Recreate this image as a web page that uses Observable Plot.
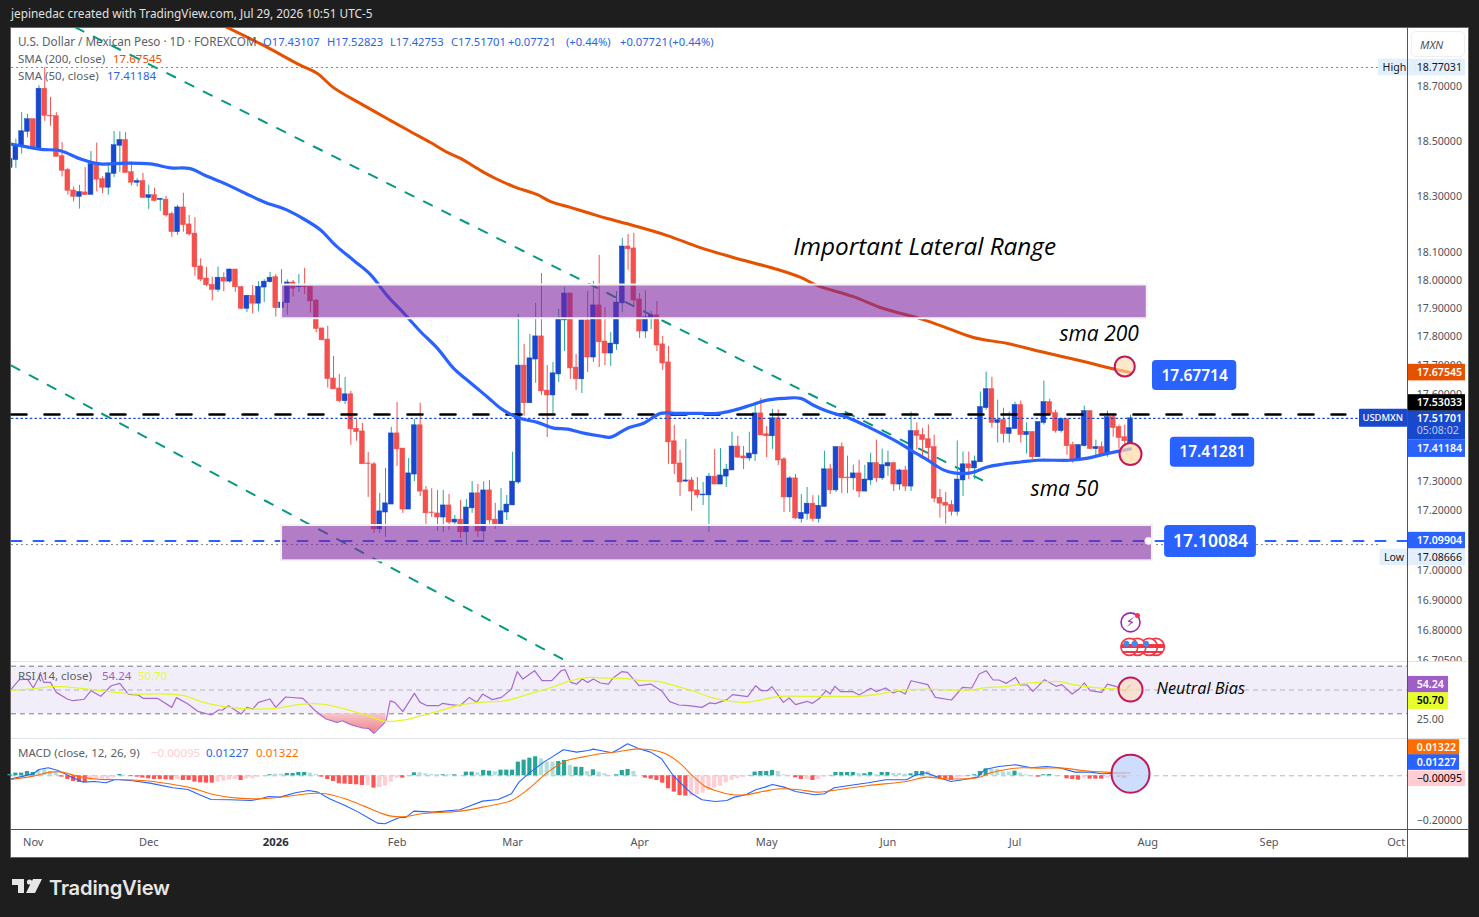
<!DOCTYPE html>
<html><head><meta charset="utf-8">
<script src="https://cdn.jsdelivr.net/npm/d3@7"></script>
<script src="https://cdn.jsdelivr.net/npm/@observablehq/plot@0.6"></script>
<style>
html,body{margin:0;padding:0;background:#1e1e1e;width:1479px;height:917px;overflow:hidden}
#stage{position:relative;width:1479px;height:917px;font-family:"Noto Sans",sans-serif}
#stage svg.plot,#stage>svg{position:absolute;left:0;max-width:none}
.t{position:absolute;white-space:pre;transform:translateY(-50%);line-height:1}
.b{position:absolute}
</style></head><body><div id="stage"></div>
<script>
// ---------- bars (first entry is bar -1) ----------
const firstBar=-1;
const opens=[18.403,18.431,18.483,18.534,18.580,18.471,18.692,18.593,18.591,18.445,18.395,18.321,18.298,18.314,18.305,18.416,18.362,18.331,18.381,18.483,18.504,18.387,18.349,18.355,18.294,18.304,18.287,18.288,18.236,18.171,18.260,18.199,18.166,18.049,18.006,17.984,17.966,18.009,17.995,18.038,17.976,17.899,17.945,17.917,17.974,17.993,
18.011,17.901,17.919,17.992,17.975,17.977,17.977,17.928,17.830,17.791,17.655,17.620,17.576,17.600,17.481,17.472,17.362,17.359,17.138,17.195,17.222,17.465,17.413,17.205,17.324,17.493,17.270,17.195,17.192,17.178,17.219,17.161,17.171,17.128,17.209,17.260,17.131,17.270,17.171,17.155,17.195,17.219,17.297,17.700,17.569,17.721,17.802,17.613,17.596,17.669,17.858,17.953,17.693,17.652,17.858,17.728,17.911,17.784,17.742,17.774,17.918,18.120,18.113,17.932,17.819,17.865,17.876,17.774,17.711,17.438,17.362,17.300,17.304,17.270,17.253,17.253,17.317,17.290,17.317,17.338,17.420,17.386,17.379,17.393,17.534,17.462,17.455,17.517,17.376,17.246,17.311,17.173,17.190,17.225,17.173,17.214,17.342,17.270,17.418,17.314,17.311,17.328,17.266,17.304,17.363,17.311,17.352,17.363,17.290,17.338,17.283,17.473,17.459,17.445,17.418,17.245,17.228,17.221,17.197,17.304,17.359,17.345,17.366,17.552,17.618,17.501,17.511,17.463,17.480,17.563,17.459,17.470,17.383,17.501,17.573,17.535,17.473,17.514,17.425,17.373,17.421,17.542,17.411,17.418,17.394,17.521,17.487,17.452,17.43107];
const highs=[18.44,18.507,18.604,18.598,18.580,18.703,18.77031,18.660,18.604,18.495,18.401,18.334,18.340,18.404,18.462,18.493,18.370,18.415,18.535,18.534,18.531,18.425,18.364,18.383,18.340,18.329,18.291,18.300,18.243,18.268,18.311,18.231,18.223,18.076,18.046,18.011,18.047,18.026,18.040,18.038,17.976,17.947,17.981,17.995,18.002,18.028,
18.020,18.038,18.001,17.999,18.020,18.042,17.985,17.932,17.830,17.837,17.732,17.669,17.659,17.610,17.513,17.500,17.400,17.365,17.260,17.345,17.486,17.572,17.413,17.379,17.513,17.569,17.283,17.276,17.270,17.270,17.256,17.185,17.236,17.239,17.300,17.290,17.300,17.304,17.226,17.277,17.253,17.400,17.879,17.774,17.809,17.918,18.024,17.700,17.711,17.897,17.974,17.953,17.739,17.858,17.960,17.996,18.088,17.904,17.816,17.960,18.149,18.163,18.167,17.953,17.963,17.890,17.925,17.802,17.767,17.493,17.407,17.444,17.314,17.314,17.297,17.328,17.410,17.413,17.359,17.469,17.455,17.420,17.469,17.572,17.586,17.489,17.548,17.546,17.382,17.317,17.324,17.256,17.280,17.252,17.252,17.404,17.359,17.418,17.432,17.387,17.356,17.373,17.356,17.397,17.442,17.411,17.404,17.366,17.342,17.352,17.539,17.501,17.483,17.494,17.459,17.273,17.263,17.235,17.439,17.401,17.401,17.387,17.608,17.677,17.659,17.580,17.552,17.539,17.573,17.577,17.501,17.470,17.504,17.646,17.583,17.545,17.518,17.514,17.435,17.425,17.559,17.542,17.442,17.435,17.542,17.528,17.494,17.494,17.52823];
const lows=[18.38,18.401,18.453,18.512,18.467,18.471,18.572,18.554,18.443,18.370,18.304,18.280,18.254,18.304,18.305,18.316,18.310,18.304,18.367,18.386,18.384,18.337,18.334,18.294,18.253,18.280,18.246,18.225,18.153,18.159,18.171,18.157,18.014,17.995,17.977,17.927,17.957,17.959,17.990,17.957,17.896,17.886,17.881,17.888,17.921,17.990,
17.870,17.872,17.876,17.940,17.957,17.949,17.884,17.814,17.788,17.622,17.617,17.570,17.565,17.424,17.438,17.359,17.246,17.124,17.124,17.111,17.222,17.352,17.192,17.205,17.300,17.249,17.155,17.178,17.131,17.128,17.134,17.148,17.108,17.08666,17.192,17.111,17.101,17.155,17.138,17.155,17.168,17.219,17.290,17.524,17.569,17.638,17.596,17.451,17.532,17.641,17.749,17.652,17.613,17.603,17.676,17.711,17.693,17.700,17.697,17.753,17.886,18.035,17.911,17.795,17.795,17.826,17.749,17.683,17.359,17.324,17.249,17.297,17.199,17.243,17.219,17.128,17.290,17.290,17.280,17.338,17.379,17.341,17.369,17.369,17.458,17.382,17.410,17.355,17.195,17.195,17.171,17.159,17.169,17.163,17.159,17.214,17.256,17.263,17.259,17.259,17.270,17.245,17.266,17.287,17.297,17.304,17.318,17.266,17.270,17.266,17.266,17.408,17.376,17.370,17.228,17.176,17.156,17.183,17.183,17.249,17.307,17.307,17.366,17.545,17.483,17.432,17.432,17.432,17.480,17.432,17.394,17.376,17.383,17.494,17.528,17.466,17.466,17.390,17.363,17.373,17.418,17.411,17.383,17.390,17.383,17.452,17.411,17.425,17.42753];
const closes=[18.435,18.485,18.536,18.580,18.471,18.692,18.592,18.590,18.443,18.392,18.320,18.298,18.315,18.304,18.416,18.360,18.331,18.383,18.485,18.504,18.384,18.349,18.355,18.294,18.304,18.283,18.291,18.231,18.171,18.260,18.196,18.163,18.046,18.002,17.982,17.966,18.009,17.995,18.038,17.975,17.899,17.945,17.917,17.977,17.995,18.009,
17.901,17.921,17.992,17.970,17.977,17.975,17.925,17.828,17.788,17.653,17.617,17.576,17.600,17.479,17.469,17.359,17.360,17.138,17.199,17.226,17.465,17.410,17.205,17.328,17.493,17.266,17.192,17.193,17.178,17.219,17.161,17.171,17.128,17.212,17.260,17.131,17.270,17.168,17.155,17.199,17.222,17.300,17.700,17.569,17.725,17.802,17.610,17.596,17.673,17.862,17.953,17.690,17.652,17.858,17.728,17.911,17.781,17.742,17.777,17.921,18.120,18.110,17.928,17.819,17.869,17.876,17.770,17.707,17.434,17.359,17.297,17.304,17.266,17.253,17.256,17.317,17.290,17.321,17.341,17.420,17.382,17.379,17.396,17.534,17.458,17.455,17.517,17.372,17.246,17.311,17.175,17.194,17.225,17.173,17.218,17.342,17.270,17.418,17.311,17.311,17.328,17.266,17.307,17.363,17.311,17.356,17.363,17.290,17.338,17.283,17.473,17.456,17.442,17.414,17.242,17.225,17.218,17.197,17.307,17.359,17.345,17.369,17.556,17.618,17.501,17.511,17.463,17.483,17.563,17.459,17.470,17.383,17.504,17.573,17.532,17.473,17.514,17.421,17.373,17.425,17.542,17.411,17.418,17.394,17.521,17.483,17.449,17.438,17.51701];

// ---------- moving averages ----------
const sma50Bars=[-1,1.7,4.3,7.7,11.2,14.6,19,23.3,26.8,30.2,32.8,36.3,39.8,43.2,46.7,49.3,52.7,55.3,58.5,61.4,64.3,67.1,70,73,75.8,78.7,81.7,84.4,87.4,90.3,93.1,95.5,98.3,101.2,103,105.9,108.7,111.6,114.6,118.6,121.5,124.3,127.2,130.1,132.9,135.9,138.1,140.5,144,148,152.7,155,157.9,160.6,162.4,165.3,168.2,171,174,176.9,182.6,185.6,188.3,193];
const sma50Vals=[18.49,18.48,18.47,18.465,18.435,18.417,18.42,18.417,18.403,18.40,18.375,18.345,18.31,18.278,18.253,18.225,18.18,18.125,18.07,18.02,17.945,17.885,17.82,17.76,17.69,17.64,17.59,17.545,17.516,17.503,17.483,17.48,17.466,17.456,17.452,17.483,17.50,17.534,17.534,17.534,17.534,17.545,17.562,17.58,17.586,17.586,17.562,17.541,17.52,17.483,17.435,17.407,17.373,17.34,17.33,17.33,17.35,17.36,17.367,17.373,17.373,17.38,17.393,17.41184];
const sma200Bars=[35.9,42.9,49.3,52.2,55,59.7,64.9,68.3,71.8,74.7,77,80.5,82.7,86.2,90.3,92.6,96,99.5,102.4,106.9,112.8,118.5,124.2,131.9,135.9,138.8,145,150.2,156,160.1,165.8,171.7,177.4,184.9,189,193];
const sma200Vals=[18.926,18.852,18.778,18.748,18.696,18.637,18.575,18.535,18.495,18.459,18.437,18.393,18.368,18.335,18.306,18.281,18.26,18.238,18.22,18.195,18.159,18.116,18.081,18.038,18.010,17.981,17.942,17.90,17.868,17.84,17.798,17.777,17.749,17.714,17.693,17.67545];

// ---------- RSI ----------
const rsiBars=[-0.8,0.6,2,3,4.3,4.8,6,7,8.9,9.9,11.8,13,14.7,16.5,18,19.5,21.2,22,24.5,27,27.8,29.8,31.5,33.8,35.1,35.8,36.8,39,40,41,42,44,45,46.7,49.7,51.7,53.7,55.6,56.5,58,60,61,62,63.6,64.1,64.8,65.6,67,69,70,71.2,73.2,73.9,75.2,76.9,78.5,79.8,80.8,82.5,84.1,85.8,86.8,87.8,89.8,91.1,92.8,94.4,95.1,96.1,97.1,98.1,99,100,101.2,102.6,103.5,104.9,105.9,107.9,109.9,111.8,113.2,114.8,116.5,118.8,120.1,121.1,123.1,124.1,126.7,128.1,129.1,130.1,130.9,132.9,133.9,135,137,137.9,139,140.3,141,141.8,142.8,145,146,148,149,150.6,151.9,152.9,154,155,157.9,159.2,162,163.9,165.5,166.8,168,169.2,170.2,171.5,173.1,173.9,175.1,176.1,178.1,180.1,181.1,182.9,184.1,185,186,188,189,190.4,192,193];
const rsiVals=[50.8,58.7,59.2,51.7,63.4,56.4,56.4,48,42.4,41,42.2,49.4,44.7,53.6,55.6,46.4,45.8,43,43,35.4,43.6,38.2,32.1,29,33.2,33.2,36.8,29.8,35.4,34,39.6,42.4,35.4,44.1,43,33.2,25.6,22.8,24.2,20.9,18.1,17.8,13.6,21.4,24.2,40.8,39.6,31.8,47.2,39.6,36.8,36.8,38.8,37.7,36.8,43.8,39.6,46.6,41.9,43.8,50.8,65.4,59.2,66.2,57.8,57.8,66.2,67.1,56.4,55,59.2,56.4,59.2,55.9,55,60.6,65.4,64.8,53.6,55,49.4,40.2,37.4,36.8,35.4,39.1,38.5,41.9,46.1,44.4,53.6,49.4,49.4,52.8,39.6,43.3,37.7,40.5,38.8,42.4,49.4,46.6,53.1,48.6,48.6,45.8,51.4,48.6,51.7,47.5,49.4,46.6,57.8,54.5,43.8,41.6,52.2,51.7,63.4,66.2,58.4,58.4,55.6,60.6,54.2,54.2,48.9,58.7,53.1,54.5,46.6,50.8,55.9,49.4,48,55,53.1,49.4,54.24];
const rsiMaBars=[-0.8,2.6,6.6,12.6,17.2,20.5,25.8,29.1,32.5,37.1,41,45,49.7,53,57,61,64,67.6,70.2,73.5,76.9,80.2,84.8,88.8,92.8,96.1,99.4,101.2,105.5,108.5,111.2,114.5,117.1,120.4,123.8,126.4,129.7,132.4,136.4,141,145,148.3,152.9,157.6,162.2,165.5,168.2,171.5,174.8,178.8,180.8,183.4,187.4,193];
const rsiMaVals=[50,50.8,53.1,50.8,48,46.6,46.6,45.2,39.6,35.4,34,34.6,38.2,38.2,34,28.4,23.7,25.1,28.4,32.6,37.4,39.6,41,46.6,52.2,57.8,60.6,60.1,59.8,57.8,57.3,53.1,49.4,43.8,40.5,39.6,42.4,44.7,44.7,44.7,44.4,45.8,49.4,50.8,50,50,52.2,52.8,55.6,57,57,54.2,51.7,50.7];

// ---------- MACD ----------
const macdBars=[-0.8,1.3,3,4,5.6,7.3,9.3,11.6,13.6,15.6,17.2,19.9,23.2,27.2,29.8,31.8,33.8,37.1,40.7,42.4,43.7,45.7,48.4,50.7,52.3,54.3,57,59.3,61.3,62.6,63.9,66.3,67.6,68.9,72.2,76.9,78.8,80.8,83.5,85.8,87.1,89.1,91.4,92.8,94.8,97.1,99.1,100,101.2,103.2,104.5,105.9,107.9,109.9,111.8,113.8,115.5,117.1,118.8,121.1,123.1,124.4,126.4,128.1,129.7,131,133,135,138.3,140,141.7,144.3,147.6,150.6,154.2,155.6,157.6,159.6,161.9,164.2,166.5,167.8,170.2,173.1,175.8,178.4,180.7,183.4,186,188,193];
const macdVals=[-.0133,-.0015,.0089,.0281,.0356,.0237,-.0015,-.0281,-.0252,-.0311,-.0163,-.0207,-.0326,-.0533,-.0607,-.0844,-.1052,-.1067,-.1096,-.1022,-.0919,-.0948,-.0756,-.0652,-.0726,-.1022,-.1319,-.1615,-.1911,-.2104,-.2133,-.1867,-.1837,-.157,-.1615,-.1511,-.1319,-.1126,-.1052,-.08,-.0281,.0163,.0607,.083,.1156,.1052,.1126,.1185,.1126,.1022,.12,.1422,.12,.1052,.0756,.0015,-.043,-.08,-.1067,-.1141,-.1096,-.0948,-.0844,-.0622,-.0504,-.0385,-.0504,-.0696,-.0844,-.08,-.0533,-.043,-.0311,-.0178,-.0178,.0015,.0133,-.0059,-.0252,-.0163,-.0059,.0281,.0415,.0489,.0356,.0415,.0356,.0163,.0163,.0089,.01227];
const signalBars=[-0.8,3,6,8,10.6,14.6,17.9,21.9,26.5,30.5,34.4,38.4,42.4,47,51,53.7,57,60.3,63,65,67.6,70.2,76.9,80.8,85.8,88.8,92.1,95.4,98.1,101.2,104.5,107.2,109.9,112.5,115.1,117.1,119.1,121.1,123.8,126.4,129.7,132.4,135.7,139,142.3,147.6,154.2,157.6,160.9,166.5,168.8,171.5,174.1,177.4,181.3,184.7,188.7,193];
const signalVals=[-.0163,-.0015,.0163,.0163,-.0015,-.0163,-.0163,-.0207,-.0356,-.0548,-.0844,-.0993,-.1022,-.0919,-.0785,-.08,-.1022,-.1348,-.1644,-.1793,-.1807,-.1689,-.157,-.1393,-.1096,-.0578,.0163,.0681,.083,.0978,.1081,.1185,.1156,.0978,.0533,.0015,-.043,-.0652,-.083,-.0844,-.0681,-.0578,-.0622,-.0726,-.0622,-.043,-.0252,-.0059,-.0133,-.0089,.0133,.0281,.0356,.0341,.0341,.0237,.0163,.01322];
const histVals=[.0059,.0119,.0119,.0193,.0148,.0267,.0267,.0193,.0163,-.0059,-.0163,-.0252,-.0296,-.0296,-.0207,-.0163,-.0163,-.0193,-.0089,.0059,.0015,-.003,-.0059,-.0104,-.0133,-.0163,-.0163,-.0178,-.0193,-.0163,-.0207,-.0207,-.0281,-.0311,-.0326,-.0326,-.0281,-.0237,-.0193,-.0163,-.0207,-.0133,-.0133,-.0059,.0015,.0044,.0074,.0074,.0104,.0104,.0148,.0148,.0119,.0059,-.0059,-.0163,-.0252,-.0355,-.037,-.0385,-.04,-.0429,-.0429,-.0548,-.0518,-.0459,-.0281,-.0104,-.0104,.0005,.0133,.0133,.0089,.0059,.0044,.0044,.0044,.0044,.0015,.0163,.0163,.0133,.0237,.0207,.0178,.0252,.0252,.0252,.0607,.0696,.0784,.0844,.0755,.0607,.0607,.0636,.0681,.0459,.0385,.037,.0193,.0266,.0163,.0089,.0015,.0044,.0237,.0281,.0193,-.0005,-.0104,-.0148,-.0207,-.0326,-.0577,-.0725,-.0873,-.0903,-.0903,-.0844,-.077,-.0651,-.0548,-.0459,-.0311,-.0207,-.0133,-.0074,.0015,.0163,.0193,.0193,.0237,.0193,.0044,.0015,-.0089,-.0163,-.0163,-.0207,-.0163,-.0059,.0015,.0148,.0148,.0148,.0148,.0104,.0089,.0148,.0044,.0148,.0148,.0104,.0104,.0074,.0089,.0193,.0193,.0193,.0015,-.0104,-.0133,-.0207,-.0104,-.0059,.0015,.0044,.0193,.0311,.0281,.0281,.0163,.0163,.0207,.0119,.0044,-.0005,-.0059,.0044,.0059,.0015,.0015,-.0133,-.0163,-.0193,-.0104,-.0148,-.0148,-.0148,-.0104,-.0074,-.0089,-.0119,-.00095];
const histKinds=("DDDDDLLLLR"+"RRRRPPPPPD"+"LRRRRRRRRP"+"RRRRRRPPPP"+"RPPPLDLLDD"+"DDLLRRRRRR"+"RRPRPPPPRL"+"DLLLLDLDLD"+"DLDDLDDDDD"+"DDLLLDDLDD"+"LDLLLDDDLP"+"RRRRRRRRPP"+"PPPPPPPPDD"+"DDDLLLRRPR"+"PPDDDDDLDD"+"LDDLLLDDDL"+"LRRRPPDDDD"+"LLLLDLLPRD"+"DLLRRRPRRR"+"PPRRP").split("");

// ---------- time axis ----------
const monthBars=[3,23,45,66,86,108,130,151,173,196,217,239];
const monthNames=["Nov","Dec","2026","Feb","Mar","Apr","May","Jun","Jul","Aug","Sep","Oct"];

// ---------- levels and labels ----------
const lastClose=17.51701, dashedLevel=17.53033, supportLevel=17.09904, highLevel=18.77031, lowLevel=17.08666;
const priceTicks=[18.7,18.5,18.3,18.1,18.0,17.9,17.8,17.7,17.6,17.3,17.2,17.0,16.9,16.8,16.7];
const priceTickText=["18.70000","18.50000","18.30000","18.10000","18.00000","17.90000","17.80000","17.70000","17.60000","17.30000","17.20000","17.00000","16.90000","16.80000","16.70500"];
const rsiTicks=[25], macdTicks=[-0.2];

// ---------- style constants ----------
const FONT='"Noto Sans",sans-serif', ITAL='"Open Sans",sans-serif';
const UP="#1848cc", DOWN="#f2514e", WICKUP="#26a69a", WICKDN="#f2514e";
const BLUE="#2962ff", ORANGE="#e65100";
const xDomain=[-0.76,240.96];
const axisEnd=251.0;           // right end of the axis label boxes, in bar units
const common={width:1479,marginLeft:11,marginRight:72,style:{background:"transparent",fontFamily:FONT,overflow:"visible"},
  x:{domain:xDomain,axis:null}};

const bars=opens.map((o,k)=>({i:k+firstBar,o,h:highs[k],l:lows[k],c:closes[k]}));
const zip=(xs,ys)=>xs.map((x,k)=>({x,y:ys[k]}));
const sma50=zip(sma50Bars,sma50Vals), sma200=zip(sma200Bars,sma200Vals);
const rsi=zip(rsiBars,rsiVals), rsiMa=zip(rsiMaBars,rsiMaVals);
const macd=zip(macdBars,macdVals), signal=zip(signalBars,signalVals);
const hist=histVals.map((v,k)=>({i:k+firstBar,v,kind:histKinds[k]}));
const histFill={D:"#26a69a",L:"#b2dfdb",P:"#ffcdd2",R:"#ff5252"};

// main-pane y: half height of a box expressed as price ratio
const pad=px=>Math.exp(px/5078);

const trend1=[{x:10.3,y:18.919},{x:168.1,y:17.297}];
const trend2=[{x:-0.76,y:17.70},{x:95.2,y:16.70}];
const span=(x2,y)=>[{x:xDomain[0],y},{x:x2,y}];

const zones=[{x1:46,x2:195.9,y1:17.864,y2:17.983},{x1:46,x2:196.8,y1:17.032,y2:17.151}];
const callouts=[
 {t:"17.67714",x1:196.8,x2:211.4,p:17.665,hh:15,fs:15.5},
 {t:"17.41281",x1:199.9,x2:214.5,p:17.400,hh:15,fs:15.5},
 {t:"17.10084",x1:198.9,x2:214.8,p:17.097,hh:16,fs:17.5}];
const axisBoxes=[
 {t:"18.77031",p:18.77031,fill:"#e3effd",c:"#131722"},
 {t:"17.67545",p:17.67545,fill:ORANGE,c:"#fff",w:600},
 {t:"17.53033",p:17.570,fill:"#000",c:"#fff",w:600},
 {t:"17.41184",p:17.41184,fill:BLUE,c:"#fff",w:600},
 {t:"17.09904",p:17.10,fill:BLUE,c:"#fff",w:600},
 {t:"17.08666",p:17.044,fill:"#e3effd",c:"#131722"}];
const sideTags=[
 {t:"High",p:18.77031,x1:235.96,fill:"#e3effd",c:"#131722"},
 {t:"Low",p:17.044,x1:236.2,fill:"#e3effd",c:"#131722"}];
const flags=[{x:197.4},{x:196.2},{x:194.2},{x:192.8}];

const stripes=()=>{const d=d3.create("svg:defs");
  const g=d.append("linearGradient").attr("id","flagStripes").attr("x1",0).attr("x2",0).attr("y1",0).attr("y2",1);
  [[0,"#fff"],[.36,"#fff"],[.36,"#f23645"],[.56,"#f23645"],[.56,"#fff"],[.72,"#fff"],[.72,"#f23645"],[.85,"#f23645"],[.85,"#fff"]]
    .forEach(([o,c])=>g.append("stop").attr("offset",o).attr("stop-color",c));
  return d.node();};

const main=Plot.plot({...common,height:661,marginTop:28,marginBottom:1,
  y:{type:"log",domain:[16.701,18.915],axis:null},
  marks:[
   stripes,
   Plot.line(trend1,{x:"x",y:"y",stroke:"#089981",strokeWidth:2,strokeDasharray:"9,11.5",clip:"frame"}),
   Plot.line(trend2,{x:"x",y:"y",stroke:"#089981",strokeWidth:2,strokeDasharray:"9,11.5",clip:"frame"}),
   Plot.line(span(235.9,highLevel),{x:"x",y:"y",stroke:"#777",strokeWidth:1,strokeDasharray:"1,4"}),
   Plot.line(span(236.2,lowLevel),{x:"x",y:"y",stroke:"#777",strokeWidth:1,strokeDasharray:"1,4"}),
   Plot.ruleX(bars,{x:"i",y1:"l",y2:"h",stroke:d=>d.c>=d.o?WICKUP:WICKDN,strokeWidth:1,clip:"frame"}),
   Plot.rect(bars,{x1:d=>d.i-.42,x2:d=>d.i+.42,y1:"o",y2:"c",fill:d=>d.c>=d.o?UP:DOWN,stroke:d=>d.c>=d.o?UP:DOWN,strokeWidth:.5,clip:"frame"}),
   Plot.line(span(232.6,lastClose),{x:"x",y:"y",stroke:UP,strokeWidth:1.3,strokeDasharray:"1.5,3.2"}),
   Plot.line(span(240.96,supportLevel),{x:"x",y:"y",stroke:BLUE,strokeWidth:2,strokeDasharray:"10,12"}),
   Plot.line(span(230.2,dashedLevel),{x:"x",y:"y",stroke:"#000",strokeWidth:2.6,strokeDasharray:"15,18"}),
   Plot.line(sma50,{x:"x",y:"y",stroke:BLUE,strokeWidth:3.2,curve:"catmull-rom",clip:"frame"}),
   Plot.line(sma200,{x:"x",y:"y",stroke:ORANGE,strokeWidth:3,curve:"catmull-rom",clip:"frame"}),
   Plot.rect(zones,{x1:"x1",x2:"x2",y1:"y1",y2:"y2",fill:"#7e27a0",fillOpacity:.6,stroke:"#f2f2f2",strokeWidth:2}),
   Plot.dot([{x:192,y:17.697}],{x:"x",y:"y",r:10,fill:"#ffd9a8",fillOpacity:.62,stroke:"#c2185b",strokeWidth:2}),
   Plot.dot([{x:193,y:17.394}],{x:"x",y:"y",r:11,fill:"#ffd9a8",fillOpacity:.72,stroke:"#c2185b",strokeWidth:2}),
   Plot.dot([{x:196.1,y:supportLevel}],{x:"x",y:"y",r:3.5,fill:"#fff",stroke:"#f3e5f5",strokeWidth:1}),
   Plot.rect(callouts,{x1:"x1",x2:"x2",y1:d=>d.p/pad(d.hh),y2:d=>d.p*pad(d.hh),fill:BLUE,rx:4}),
   ...callouts.map(c=>Plot.text([c],{x:d=>(d.x1+d.x2)/2,y:"p",text:"t",fill:"#fff",fontSize:c.fs,fontWeight:600})),
   Plot.text([{x:134.6,y:18.116}],{x:"x",y:"y",text:()=>"Important Lateral Range",textAnchor:"start",fontFamily:ITAL,fontStyle:"italic",fontSize:24.3,fill:"#000",letterSpacing:"0.6px"}),
   Plot.text([{x:180.7,y:17.809}],{x:"x",y:"y",text:()=>"sma 200",textAnchor:"start",fontFamily:ITAL,fontStyle:"italic",fontSize:21,fill:"#000"}),
   Plot.text([{x:175.7,y:17.273}],{x:"x",y:"y",text:()=>"sma 50",textAnchor:"start",fontFamily:ITAL,fontStyle:"italic",fontSize:21,fill:"#000"}),
   // event icons
   Plot.dot([{x:193,y:16.827}],{x:"x",y:"y",r:9.5,fill:"#fff",stroke:"#9c27b0",strokeWidth:1.6}),
   Plot.text([{x:193,y:16.827}],{x:"x",y:"y",text:()=>"⚡",fontSize:13.5,fill:"#9c27b0",fontFamily:"DejaVu Sans"}),
   Plot.dot([{x:194.2,y:16.850}],{x:"x",y:"y",r:2.5,fill:"#f23645"}),
   Plot.dot(flags,{x:"x",y:()=>16.746,r:8.5,fill:"url(#flagStripes)",stroke:"#f23645",strokeWidth:1.6}),
   Plot.dot(flags.slice(1),{x:"x",y:()=>16.746,r:3,dx:-3,dy:-3,fill:"#3f8cf0"}),
   // price axis
   Plot.text(priceTicks,{x:()=>241,y:d=>d,text:(d,k)=>priceTickText[k],textAnchor:"start",dx:9,fontSize:10.6,fill:"#50535e"}),
   Plot.rect(axisBoxes,{x1:()=>241,x2:()=>axisEnd,y1:d=>d.p/pad(8.3),y2:d=>d.p*pad(8.3),fill:"fill"}),
   ...axisBoxes.map(b=>Plot.text([b],{x:()=>241,y:"p",text:"t",textAnchor:"start",dx:9,fontSize:10.6,fill:b.c,fontWeight:b.w||400})),
   Plot.rect(sideTags,{x1:"x1",x2:()=>241,y1:d=>d.p/pad(8.3),y2:d=>d.p*pad(8.3),fill:"fill"}),
   Plot.text(sideTags,{x:"x1",y:"p",text:"t",textAnchor:"start",dx:4,fontSize:10.6,fill:"c"}),
   // last price block
   Plot.rect([{}],{x1:()=>232.65,x2:()=>241,y1:()=>lastClose/pad(9),y2:()=>lastClose*pad(9),fill:UP,rx:1}),
   Plot.text(["USDMXN"],{x:()=>232.65,y:()=>lastClose,text:d=>d,textAnchor:"start",dx:3,fontSize:9.4,fill:"#fff",fontWeight:500}),
   Plot.rect([{}],{x1:()=>241,x2:()=>axisEnd,y1:()=>17.5415,y2:()=>17.4415,fill:UP}),
   Plot.text(["17.51701"],{x:()=>241,y:()=>lastClose,text:d=>d,textAnchor:"start",dx:9,fontSize:10.6,fill:"#fff",fontWeight:600}),
   Plot.text(["05:08:02"],{x:()=>241,y:()=>17.473,text:d=>d,textAnchor:"start",dx:9,fontSize:10.6,fill:"#b9c9f2"}),
   Plot.rect([{}],{x1:()=>241,x2:()=>axisEnd,y1:()=>17.41184/pad(8.3),y2:()=>17.41184*pad(8.3),fill:BLUE}),
   Plot.text(["17.41184"],{x:()=>241,y:()=>17.41184,text:d=>d,textAnchor:"start",dx:9,fontSize:10.6,fill:"#fff",fontWeight:600})
  ]});

const rsiBoxes=[{t:"54.24",p:54.4,fill:"#9e5ec6",c:"#fff"},{t:"50.70",p:40.7,fill:"#e5ff2a",c:"#000"}];
const below=rsi.filter(d=>d.x>=51&&d.x<=64.4).map(d=>({x:d.x,y:Math.min(d.y,30)}));
const rsiGrad=()=>{const d=d3.create("svg:defs");
  const g=d.append("linearGradient").attr("id","osFill").attr("x1",0).attr("x2",0).attr("y1",0).attr("y2",1);
  g.append("stop").attr("offset",0).attr("stop-color","#f7c7cb");g.append("stop").attr("offset",1).attr("stop-color","#f0808a");
  return d.node();};
const rsiPlot=Plot.plot({...common,height:77,marginTop:0,marginBottom:0,
  y:{domain:[9.24,73.95],axis:null},
  marks:[
   rsiGrad,
   Plot.rect([{}],{x1:()=>xDomain[0],x2:()=>xDomain[1],y1:()=>30,y2:()=>70,fill:"#7e57c2",fillOpacity:.1}),
   Plot.ruleY([70,30],{stroke:"#787b86",strokeDasharray:"5,4",strokeWidth:1}),
   Plot.ruleY([50],{stroke:"#b0b3bc",strokeDasharray:"5,4",strokeWidth:1}),
   Plot.areaY(below,{x:"x",y1:()=>30,y2:"y",fill:"url(#osFill)"}),
   Plot.line(rsi,{x:"x",y:"y",stroke:"#a76ad0",strokeWidth:1.2}),
   Plot.line(rsiMa,{x:"x",y:"y",stroke:"#e3f52a",strokeWidth:1.3,curve:"catmull-rom"}),
   Plot.dot([{x:193,y:50.4}],{x:"x",y:"y",r:12,fill:"#fbdcc0",fillOpacity:.72,stroke:"#c2185b",strokeWidth:2}),
   Plot.text([{x:197.5,y:50.9}],{x:"x",y:"y",text:()=>"Neutral Bias",textAnchor:"start",fontFamily:ITAL,fontStyle:"italic",fontSize:16.3,fill:"#000",letterSpacing:"0.5px"}),
   Plot.text(rsiTicks,{x:()=>241,y:d=>d,text:d=>d.toFixed(2),textAnchor:"start",dx:9,fontSize:10.6,fill:"#50535e"}),
   Plot.rect(rsiBoxes,{x1:()=>241,x2:()=>248.07,y1:d=>d.p-7,y2:d=>d.p+7,fill:"fill"}),
   ...rsiBoxes.map(b=>Plot.text([b],{x:()=>241,y:"p",text:"t",textAnchor:"start",dx:9,fontSize:10.6,fill:b.c,fontWeight:600}))
  ]});

const macdBoxes=[
 {t:"0.01322",p:.1257,x2:249.97,fill:"#ff6d00",c:"#fff",w:600},
 {t:"0.01227",p:.0590,x2:249.97,fill:BLUE,c:"#fff",w:600},
 {t:"\u22120.00095",p:-.0130,x2:axisEnd,fill:"#ffcdd2",c:"#000",w:400}];
const macdPlot=Plot.plot({...common,height:118,marginTop:0,marginBottom:28,
  y:{domain:[-.2387,.1613],axis:null},
  marks:[
   Plot.ruleY([0],{stroke:"#b2b5be",strokeDasharray:"5,4",strokeWidth:1}),
   Plot.rect(hist,{x1:d=>d.i-.36,x2:d=>d.i+.36,y1:()=>0,y2:"v",fill:d=>histFill[d.kind]}),
   Plot.line(macd,{x:"x",y:"y",stroke:BLUE,strokeWidth:1.1}),
   Plot.line(signal,{x:"x",y:"y",stroke:"#ff6d00",strokeWidth:1.1,curve:"catmull-rom"}),
   Plot.dot([{x:193,y:.0095}],{x:"x",y:"y",r:19,fill:"#c3d4fb",fillOpacity:.8,stroke:"#c2185b",strokeWidth:2}),
   Plot.text(macdTicks,{x:()=>241,y:d=>d,text:d=>"\u2212"+Math.abs(d).toFixed(5),textAnchor:"start",dx:9,fontSize:10.6,fill:"#50535e"}),
   Plot.rect(macdBoxes,{x1:()=>241,x2:"x2",y1:d=>d.p-.0345,y2:d=>d.p+.0345,fill:"fill"}),
   ...macdBoxes.map(b=>Plot.text([b],{x:()=>241,y:"p",text:"t",textAnchor:"start",dx:9,fontSize:10.6,fill:b.c,fontWeight:b.w})),
   Plot.text(monthBars.filter((_,k)=>monthNames[k]!=="2026"),{x:d=>d,frameAnchor:"bottom",dy:16,text:d=>monthNames[monthBars.indexOf(d)],fontSize:11,fill:"#50535e"}),
   Plot.text(monthBars.filter((_,k)=>monthNames[k]==="2026"),{x:d=>d,frameAnchor:"bottom",dy:16,text:d=>monthNames[monthBars.indexOf(d)],fontSize:11.3,fill:"#2a2e39",fontWeight:700})
  ]});

// ---------- page furniture ----------
const stage=document.getElementById("stage");
function box(l,t,w,h,bg,extra){const d=document.createElement("div");d.className="b";
  d.style.cssText=`left:${l}px;top:${t}px;width:${w}px;height:${h}px;background:${bg};${extra||""}`;stage.appendChild(d);return d;}
function txt(l,y,s,c,size,extra){const d=document.createElement("div");d.className="t";
  d.style.cssText=`left:${l}px;top:${y}px;color:${c};font-size:${size||11.5}px;${extra||""}`;d.textContent=s;stage.appendChild(d);return d;}

box(10,27,1459,831,"#fff","box-sizing:border-box;border:1px solid #666");
stage.appendChild(main); main.style.top="0px";
box(1408,661,59,77,"#fff");
box(11,661,1396,1,"#e0e3eb");
box(1407,661,60,1,"#e0e3eb");
stage.appendChild(rsiPlot); rsiPlot.style.top="661px";
box(11,738,1456,1,"#e0e3eb");
stage.appendChild(macdPlot); macdPlot.style.top="739px";
box(11,829,1457,1,"#50535e");
box(1407,28,1,829,"#50535e");
box(1411,31,54,26,"#fff","box-sizing:border-box;border:1px solid #eee;border-radius:5px");
txt(1420,45,"MXN","#50535e",11.2,"font-style:italic");

const GREY="#5a5e69", VAL="#2b63e6";
txt(11,14,"jepinedac created with TradingView.com, Jul 29, 2026 10:51 UTC-5","#e0e0e0",11.8);
txt(18,42,"U.S. Dollar / Mexican Peso \u00b7 1D \u00b7 FOREXCOM",GREY,11.7);
[["O17.43107",263],["H17.52823",327],["L17.42753",390],["C17.51701",451],["+0.07721",508],["(+0.44%)",566],["+0.07721",620],["(+0.44%)",669]]
  .forEach(([s,l])=>txt(l,42,s,VAL,11.2));
txt(18,59,"SMA (200, close)",GREY,11.5); txt(113,59,"17.67545","#e65100",11.5);
txt(18,76,"SMA (50, close)",GREY,11.5); txt(107,76,"17.41184",VAL,11.5);
txt(18,676,"RSI (14, close)",GREY,11.5); txt(102,676,"54.24","#9c5cc4",11.5); txt(138,676,"50.70","#e5ff2a",11.5);
txt(18,753,"MACD (close, 12, 26, 9)",GREY,11.5); txt(151,753,"\u22120.00095","#ffcdd2",11.5); txt(206,753,"0.01227",VAL,11.5); txt(256,753,"0.01322","#ff6d00",11.5);

// footer logo
const logo=document.createElementNS("http://www.w3.org/2000/svg","svg");
logo.setAttribute("width","36");logo.setAttribute("height","20");logo.setAttribute("viewBox","0 0 36 20");
logo.style.cssText="position:absolute;left:11px;top:877px";
logo.innerHTML='<path fill="#e6e6e6" d="M1 2h12v14H7V8H1z"/><circle cx="18.5" cy="5" r="2.6" fill="#e6e6e6"/><path fill="#e6e6e6" d="M22 2h9l-7 14h-9z"/>';
stage.appendChild(logo);
txt(49,888,"TradingView","#e6e6e6",20.2,'font-family:Inter,sans-serif;font-weight:600;letter-spacing:-.2px');
</script></body></html>
